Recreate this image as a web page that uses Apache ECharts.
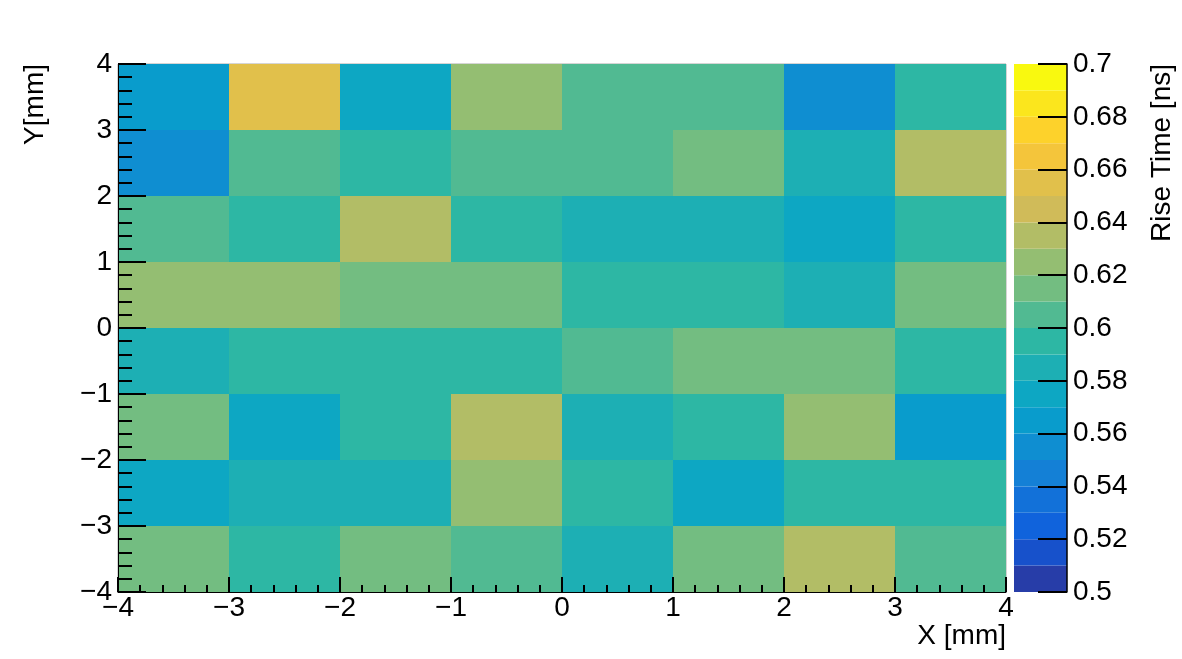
<!DOCTYPE html>
<html>
<head>
<meta charset="utf-8">
<script src="https://cdn.jsdelivr.net/npm/echarts@6/dist/echarts.min.js"></script>
<style>
  html, body { margin: 0; padding: 0; background: #fff; }
  #chart { width: 1182px; height: 659px; }
</style>
</head>
<body>
<div id="chart"></div>
<script>
// bin centres (mm)
var xBins = [-3.5, -2.5, -1.5, -0.5, 0.5, 1.5, 2.5, 3.5];
var yBins = [3.5, 2.5, 1.5, 0.5, -0.5, -1.5, -2.5, -3.5];

// rise time [ns], one row per y bin (top row first)
var riseTime = [
  [0.565, 0.655, 0.575, 0.625, 0.605, 0.605, 0.555, 0.595],
  [0.555, 0.605, 0.595, 0.605, 0.605, 0.615, 0.585, 0.635],
  [0.605, 0.595, 0.635, 0.595, 0.585, 0.585, 0.575, 0.595],
  [0.625, 0.625, 0.615, 0.615, 0.595, 0.595, 0.585, 0.615],
  [0.585, 0.595, 0.595, 0.595, 0.605, 0.615, 0.615, 0.595],
  [0.615, 0.575, 0.595, 0.635, 0.585, 0.595, 0.625, 0.565],
  [0.575, 0.585, 0.585, 0.625, 0.595, 0.575, 0.595, 0.595],
  [0.615, 0.595, 0.615, 0.605, 0.585, 0.615, 0.635, 0.605]
];

// colour scale: 20 contour levels between 0.5 and 0.7
var zMin = 0.5, zMax = 0.7, nLevels = 20;
var levels = [0.50, 0.51, 0.52, 0.53, 0.54, 0.55, 0.56, 0.57, 0.58, 0.59,
              0.60, 0.61, 0.62, 0.63, 0.64, 0.65, 0.66, 0.67, 0.68, 0.69];

// ROOT kBird palette stops
var stops = [0.0, 0.125, 0.25, 0.375, 0.5, 0.625, 0.75, 0.875, 1.0];
var red   = [0.2082, 0.0592, 0.0780, 0.0232, 0.1802, 0.5301, 0.8186, 0.9956, 0.9764];
var green = [0.1664, 0.3599, 0.5041, 0.6419, 0.7178, 0.7492, 0.7328, 0.7862, 0.9832];
var blue  = [0.5293, 0.8684, 0.8385, 0.7914, 0.6425, 0.4662, 0.3499, 0.1968, 0.0539];

function birdColor(t) {
  var i = 1;
  while (i < stops.length - 1 && t > stops[i]) i++;
  var f = (t - stops[i - 1]) / (stops[i] - stops[i - 1]);
  var c = function (a) { return Math.round(255 * (a[i - 1] + (a[i] - a[i - 1]) * f)); };
  return 'rgb(' + c(red) + ',' + c(green) + ',' + c(blue) + ')';
}

function levelColor(v) {
  var k = Math.floor((v - zMin) / (zMax - zMin) * nLevels + 1e-9);
  k = Math.max(0, Math.min(nLevels - 1, k));
  var idx = Math.floor((k + 0.99) * 255 / nLevels);
  return birdColor(idx / 255);
}

var cells = [];
yBins.forEach(function (y, r) {
  xBins.forEach(function (x, c) {
    cells.push([x, y, riseTime[r][c]]);
  });
});

var font = 'Liberation Sans';
var minus = function (v) { return String(v).replace('-', '\u2212'); };

var myChart = echarts.init(document.getElementById('chart'));

var option = {
  animation: false,
  textStyle: { fontFamily: font },
  grid: [
    { left: 118, top: 64, width: 888, height: 528, show: true, borderColor: '#aaa', borderWidth: 1, outerBoundsMode: 'none' },
    { left: 1014, top: 64, width: 53, height: 528, outerBoundsMode: 'none' }
  ],
  xAxis: [{
    gridIndex: 0, type: 'value', min: -4, max: 4, interval: 1, z: 10,
    axisLine: { onZero: false, lineStyle: { color: '#000', width: 1 } },
    axisTick: { inside: true, length: 15, lineStyle: { color: '#000', width: 2 } },
    minorTick: { show: true, splitNumber: 5, length: 7, lineStyle: { color: '#000', width: 2 } },
    splitLine: { show: false },
    axisLabel: { fontSize: 28, color: '#000', margin: 2, fontFamily: font, formatter: minus }
  }, {
    gridIndex: 1, type: 'value', min: 0, max: 1, show: false
  }],
  yAxis: [{
    gridIndex: 0, type: 'value', min: -4, max: 4, interval: 1, z: 10,
    axisLine: { onZero: false, lineStyle: { color: '#000', width: 1 } },
    axisTick: { inside: true, length: 28, lineStyle: { color: '#000', width: 2 } },
    minorTick: { show: true, splitNumber: 5, length: 14, lineStyle: { color: '#000', width: 2 } },
    splitLine: { show: false },
    axisLabel: { fontSize: 28, color: '#000', margin: 6, fontFamily: font, formatter: minus }
  }, {
    gridIndex: 1, type: 'value', min: zMin, max: zMax, interval: 0.02, position: 'right', z: 10,
    axisLine: { show: true, onZero: false, lineStyle: { color: '#000', width: 1.5 } },
    axisTick: { inside: true, length: 29, lineStyle: { color: '#000', width: 2 } },
    splitLine: { show: false },
    axisLabel: {
      fontSize: 28, color: '#000', margin: 6, fontFamily: font,
      formatter: function (v) { return String(Math.round(v * 100) / 100); }
    }
  }],
  series: [{
    type: 'custom',
    xAxisIndex: 0, yAxisIndex: 0, z: 1,
    data: cells,
    renderItem: function (params, api) {
      var x = api.value(0), y = api.value(1);
      var p0 = api.coord([x - 0.5, y + 0.5]);
      var p1 = api.coord([x + 0.5, y - 0.5]);
      return {
        type: 'rect',
        shape: { x: p0[0], y: p0[1], width: p1[0] - p0[0], height: p1[1] - p0[1] },
        style: { fill: levelColor(api.value(2)), stroke: null }
      };
    }
  }, {
    // colour bar
    type: 'custom',
    xAxisIndex: 1, yAxisIndex: 1, z: 1,
    data: levels.map(function (l) { return [l]; }),
    renderItem: function (params, api) {
      var l = api.value(0);
      var p0 = api.coord([0, l + (zMax - zMin) / nLevels]);
      var p1 = api.coord([1, l]);
      return {
        type: 'rect',
        shape: { x: p0[0], y: p0[1], width: p1[0] - p0[0], height: p1[1] - p0[1] },
        style: { fill: levelColor(l + 0.001), stroke: null }
      };
    }
  }],
  graphic: [{
    type: 'text', x: 35, y: 64, rotation: Math.PI / 2,
    style: { text: 'Y[mm]', fontSize: 28, fontFamily: font, fill: '#000', align: 'right', verticalAlign: 'middle' }
  }, {
    type: 'text', x: 1006, y: 636,
    style: { text: 'X [mm]', fontSize: 28, fontFamily: font, fill: '#000', align: 'right', verticalAlign: 'middle' }
  }, {
    type: 'text', x: 1162, y: 64, rotation: Math.PI / 2,
    style: { text: 'Rise Time [ns]', fontSize: 28, fontFamily: font, fill: '#000', align: 'right', verticalAlign: 'middle' }
  }]
};

myChart.setOption(option);
</script>
</body>
</html>
